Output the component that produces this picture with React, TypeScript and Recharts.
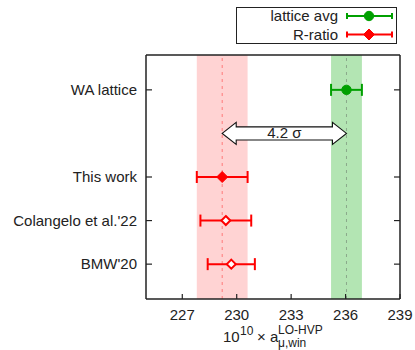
import React from 'react';
import {
  ComposedChart,
  XAxis,
  YAxis,
  Scatter,
  ErrorBar,
  ReferenceArea,
  ReferenceLine,
  Legend,
} from 'recharts';

// ---- data ----
const labels = ["BMW'20", "Colangelo et al.'22", 'This work', 'WA lattice'];
const rows = [1, 2, 3, 5];
const centers = [229.7, 229.4, 229.2, 236.05];
const errors = [1.3, 1.4, 1.4, 0.85];
const xTicks = [227, 230, 233, 236, 239];
const xDomain = [225, 239];
const yDomain = [0.2, 5.8];
const arrowRow = 4;
const sigmaLabel = '4.2 σ';
const legendNames = ['lattice avg', 'R-ratio'];

const pt = (i: number) => ({ x: centers[i], y: rows[i], ex: errors[i] });
const waData = [pt(3)];
const thisData = [pt(2)];
const otherData = [pt(0), pt(1)];
const labelByRow: Record<number, string> = {};
rows.forEach((r, i) => (labelByRow[r] = labels[i]));

// ---- styles ----
const FONT = '"Liberation Sans", Arial, Helvetica, sans-serif';
const RED = '#ff0000';
const GREEN = '#00a000';
const PINK = '#ffd3d3';
const LGREEN = '#b3e5b3';
const FRAME = '#222222';
const TXT = '#222222';

const BottomTick = (p: any) => (
  <g>
    <line x1={p.x} x2={p.x} y1={p.y} y2={p.y - 5} stroke={FRAME} strokeWidth={1.2} />
    <text x={p.x} y={p.y + 21} textAnchor="middle" fontSize={15} fill={TXT} fontFamily={FONT}>
      {p.payload.value}
    </text>
  </g>
);
const TopTick = (p: any) => (
  <line x1={p.x} x2={p.x} y1={p.y} y2={p.y + 5} stroke={FRAME} strokeWidth={1.2} />
);
const LeftTick = (p: any) => (
  <g>
    <line x1={p.x} x2={p.x + 6} y1={p.y} y2={p.y} stroke={FRAME} strokeWidth={1.2} />
    <text x={p.x - 9} y={p.y + 5} textAnchor="end" fontSize={15} fill={TXT} fontFamily={FONT}>
      {labelByRow[p.payload.value]}
    </text>
  </g>
);
const RightTick = (p: any) => (
  <line x1={p.x} x2={p.x - 6} y1={p.y} y2={p.y} stroke={FRAME} strokeWidth={1.2} />
);

const Diamond = ({ cx, cy, open }: any) => {
  const r = open ? 4.5 : 5.5;
  return (
    <polygon
      points={`${cx},${cy - r} ${cx + r},${cy} ${cx},${cy + r} ${cx - r},${cy}`}
      fill={open ? '#ffffff' : RED}
      stroke={RED}
      strokeWidth={open ? 2 : 1}
    />
  );
};
const Dot = ({ cx, cy }: any) => <circle cx={cx} cy={cy} r={4.7} fill={GREEN} stroke={GREEN} />;

const Arrow = ({ x, y, width, height }: any) => {
  const cy = y + height / 2;
  const hh = height / 2;
  const bh = hh * 0.59;
  const hl = 14;
  const pts = [
    [x, cy],
    [x + hl, cy - hh],
    [x + hl, cy - bh],
    [x + width - hl, cy - bh],
    [x + width - hl, cy - hh],
    [x + width, cy],
    [x + width - hl, cy + hh],
    [x + width - hl, cy + bh],
    [x + hl, cy + bh],
    [x + hl, cy + hh],
  ]
    .map((q) => q.join(','))
    .join(' ');
  return (
    <g>
      <polygon points={pts} fill="#ffffff" stroke="#111" strokeWidth={1.1} />
      <text x={x + width / 2} y={cy + 5} textAnchor="middle" fontSize={15} fill={TXT} fontFamily={FONT}>
        {sigmaLabel}
      </text>
    </g>
  );
};

const AxisTitle = (props: any) => {
  const vb = props.viewBox || {};
  const cx = vb.x + vb.width / 2;
  const base = vb.y + 43;
  const common = { fill: TXT, fontFamily: FONT } as any;
  return (
    <g>
      <text x={cx - 50} y={base} fontSize={15} {...common}>10</text>
      <text x={cx - 33} y={base - 7} fontSize={12} {...common}>10</text>
      <text x={cx - 16} y={base} fontSize={15} {...common}>× a</text>
      <text x={cx + 5} y={base - 8} fontSize={12} {...common}>LO-HVP</text>
      <text x={cx + 5} y={base + 5} fontSize={12} {...common}>μ,win</text>
    </g>
  );
};

const LegendSample = ({ y, color, marker }: any) => (
  <g>
    <line x1={111} x2={156} y1={y} y2={y} stroke={color} strokeWidth={2} />
    <line x1={111} x2={111} y1={y - 3} y2={y + 3} stroke={color} strokeWidth={2} />
    <line x1={156} x2={156} y1={y - 3} y2={y + 3} stroke={color} strokeWidth={2} />
    {marker === 'circle' ? <Dot cx={133} cy={y} /> : <Diamond cx={133} cy={y} />}
  </g>
);

const LegendBox = () => (
  <svg width={161} height={37} style={{ display: 'block' }}>
    <rect x={0.5} y={0.5} width={160} height={36} fill="#ffffff" stroke={FRAME} strokeWidth={1} />
    <text x={102} y={14} textAnchor="end" fontSize={15} fill={TXT} fontFamily={FONT}>
      {legendNames[0]}
    </text>
    <LegendSample y={9} color={GREEN} marker="circle" />
    <text x={102} y={32.5} textAnchor="end" fontSize={15} fill={TXT} fontFamily={FONT}>
      {legendNames[1]}
    </text>
    <LegendSample y={27.5} color={RED} marker="diamond" />
  </svg>
);

export default function App() {
  const axisLine = { stroke: FRAME, strokeWidth: 1.5 };
  return (
    <div style={{ position: 'absolute', left: 0, top: 0 }}>
      <ComposedChart width={415} height={350} margin={{ top: 45, right: 0, bottom: 0, left: 0 }}>
        <XAxis
          type="number"
          dataKey="x"
          domain={xDomain}
          ticks={xTicks}
          interval={0}
          allowDataOverflow
          tickLine={false}
          tickSize={0}
          tickMargin={0}
          axisLine={axisLine}
          tick={(p: any) => <BottomTick {...p} />}
          height={51}
          label={(p: any) => <AxisTitle {...p} />}
        />
        <XAxis
          xAxisId="top"
          orientation="top"
          type="number"
          domain={xDomain}
          ticks={xTicks}
          interval={0}
          allowDataOverflow
          tickLine={false}
          tickSize={0}
          tickMargin={0}
          axisLine={axisLine}
          tick={(p: any) => <TopTick {...p} />}
          height={10}
        />
        <YAxis
          type="number"
          dataKey="y"
          domain={yDomain}
          ticks={rows}
          interval={0}
          allowDataOverflow
          tickLine={false}
          tickSize={0}
          tickMargin={0}
          axisLine={axisLine}
          tick={(p: any) => <LeftTick {...p} />}
          width={146}
        />
        <YAxis
          yAxisId="right"
          orientation="right"
          type="number"
          domain={yDomain}
          ticks={rows}
          interval={0}
          allowDataOverflow
          tickLine={false}
          tickSize={0}
          tickMargin={0}
          axisLine={axisLine}
          tick={(p: any) => <RightTick {...p} />}
          width={15}
        />
        <ReferenceArea
          x1={centers[2] - errors[2]}
          x2={centers[2] + errors[2]}
          fill={PINK}
          fillOpacity={1}
          stroke="none"
        />
        <ReferenceArea
          x1={centers[3] - errors[3]}
          x2={centers[3] + errors[3]}
          fill={LGREEN}
          fillOpacity={1}
          stroke="none"
        />
        <ReferenceLine x={centers[2]} stroke="#ff7a7a" strokeDasharray="3 4" strokeWidth={1} />
        <ReferenceLine x={centers[3]} stroke="#8aa88a" strokeDasharray="3 4" strokeWidth={1} />
        <ReferenceArea
          x1={centers[2]}
          x2={centers[3]}
          y1={arrowRow - 0.253}
          y2={arrowRow + 0.253}
          shape={(p: any) => <Arrow {...p} />}
        />
        <Scatter name={legendNames[0]} data={waData} isAnimationActive={false} shape={(p: any) => <Dot {...p} />}>
          <ErrorBar dataKey="ex" direction="x" width={6} stroke={GREEN} strokeWidth={2} />
        </Scatter>
        <Scatter name={legendNames[1]} data={thisData} isAnimationActive={false} shape={(p: any) => <Diamond {...p} />}>
          <ErrorBar dataKey="ex" direction="x" width={6} stroke={RED} strokeWidth={2} />
        </Scatter>
        <Scatter name="other" data={otherData} isAnimationActive={false} shape={(p: any) => <Diamond {...p} open />}>
          <ErrorBar dataKey="ex" direction="x" width={6} stroke={RED} strokeWidth={2} />
        </Scatter>
        <Legend
          layout="horizontal"
          verticalAlign="middle"
          align="center"
          wrapperStyle={{ left: 236, top: 7, width: 161, height: 37 }}
          content={() => <LegendBox />}
        />
      </ComposedChart>
    </div>
  );
}
